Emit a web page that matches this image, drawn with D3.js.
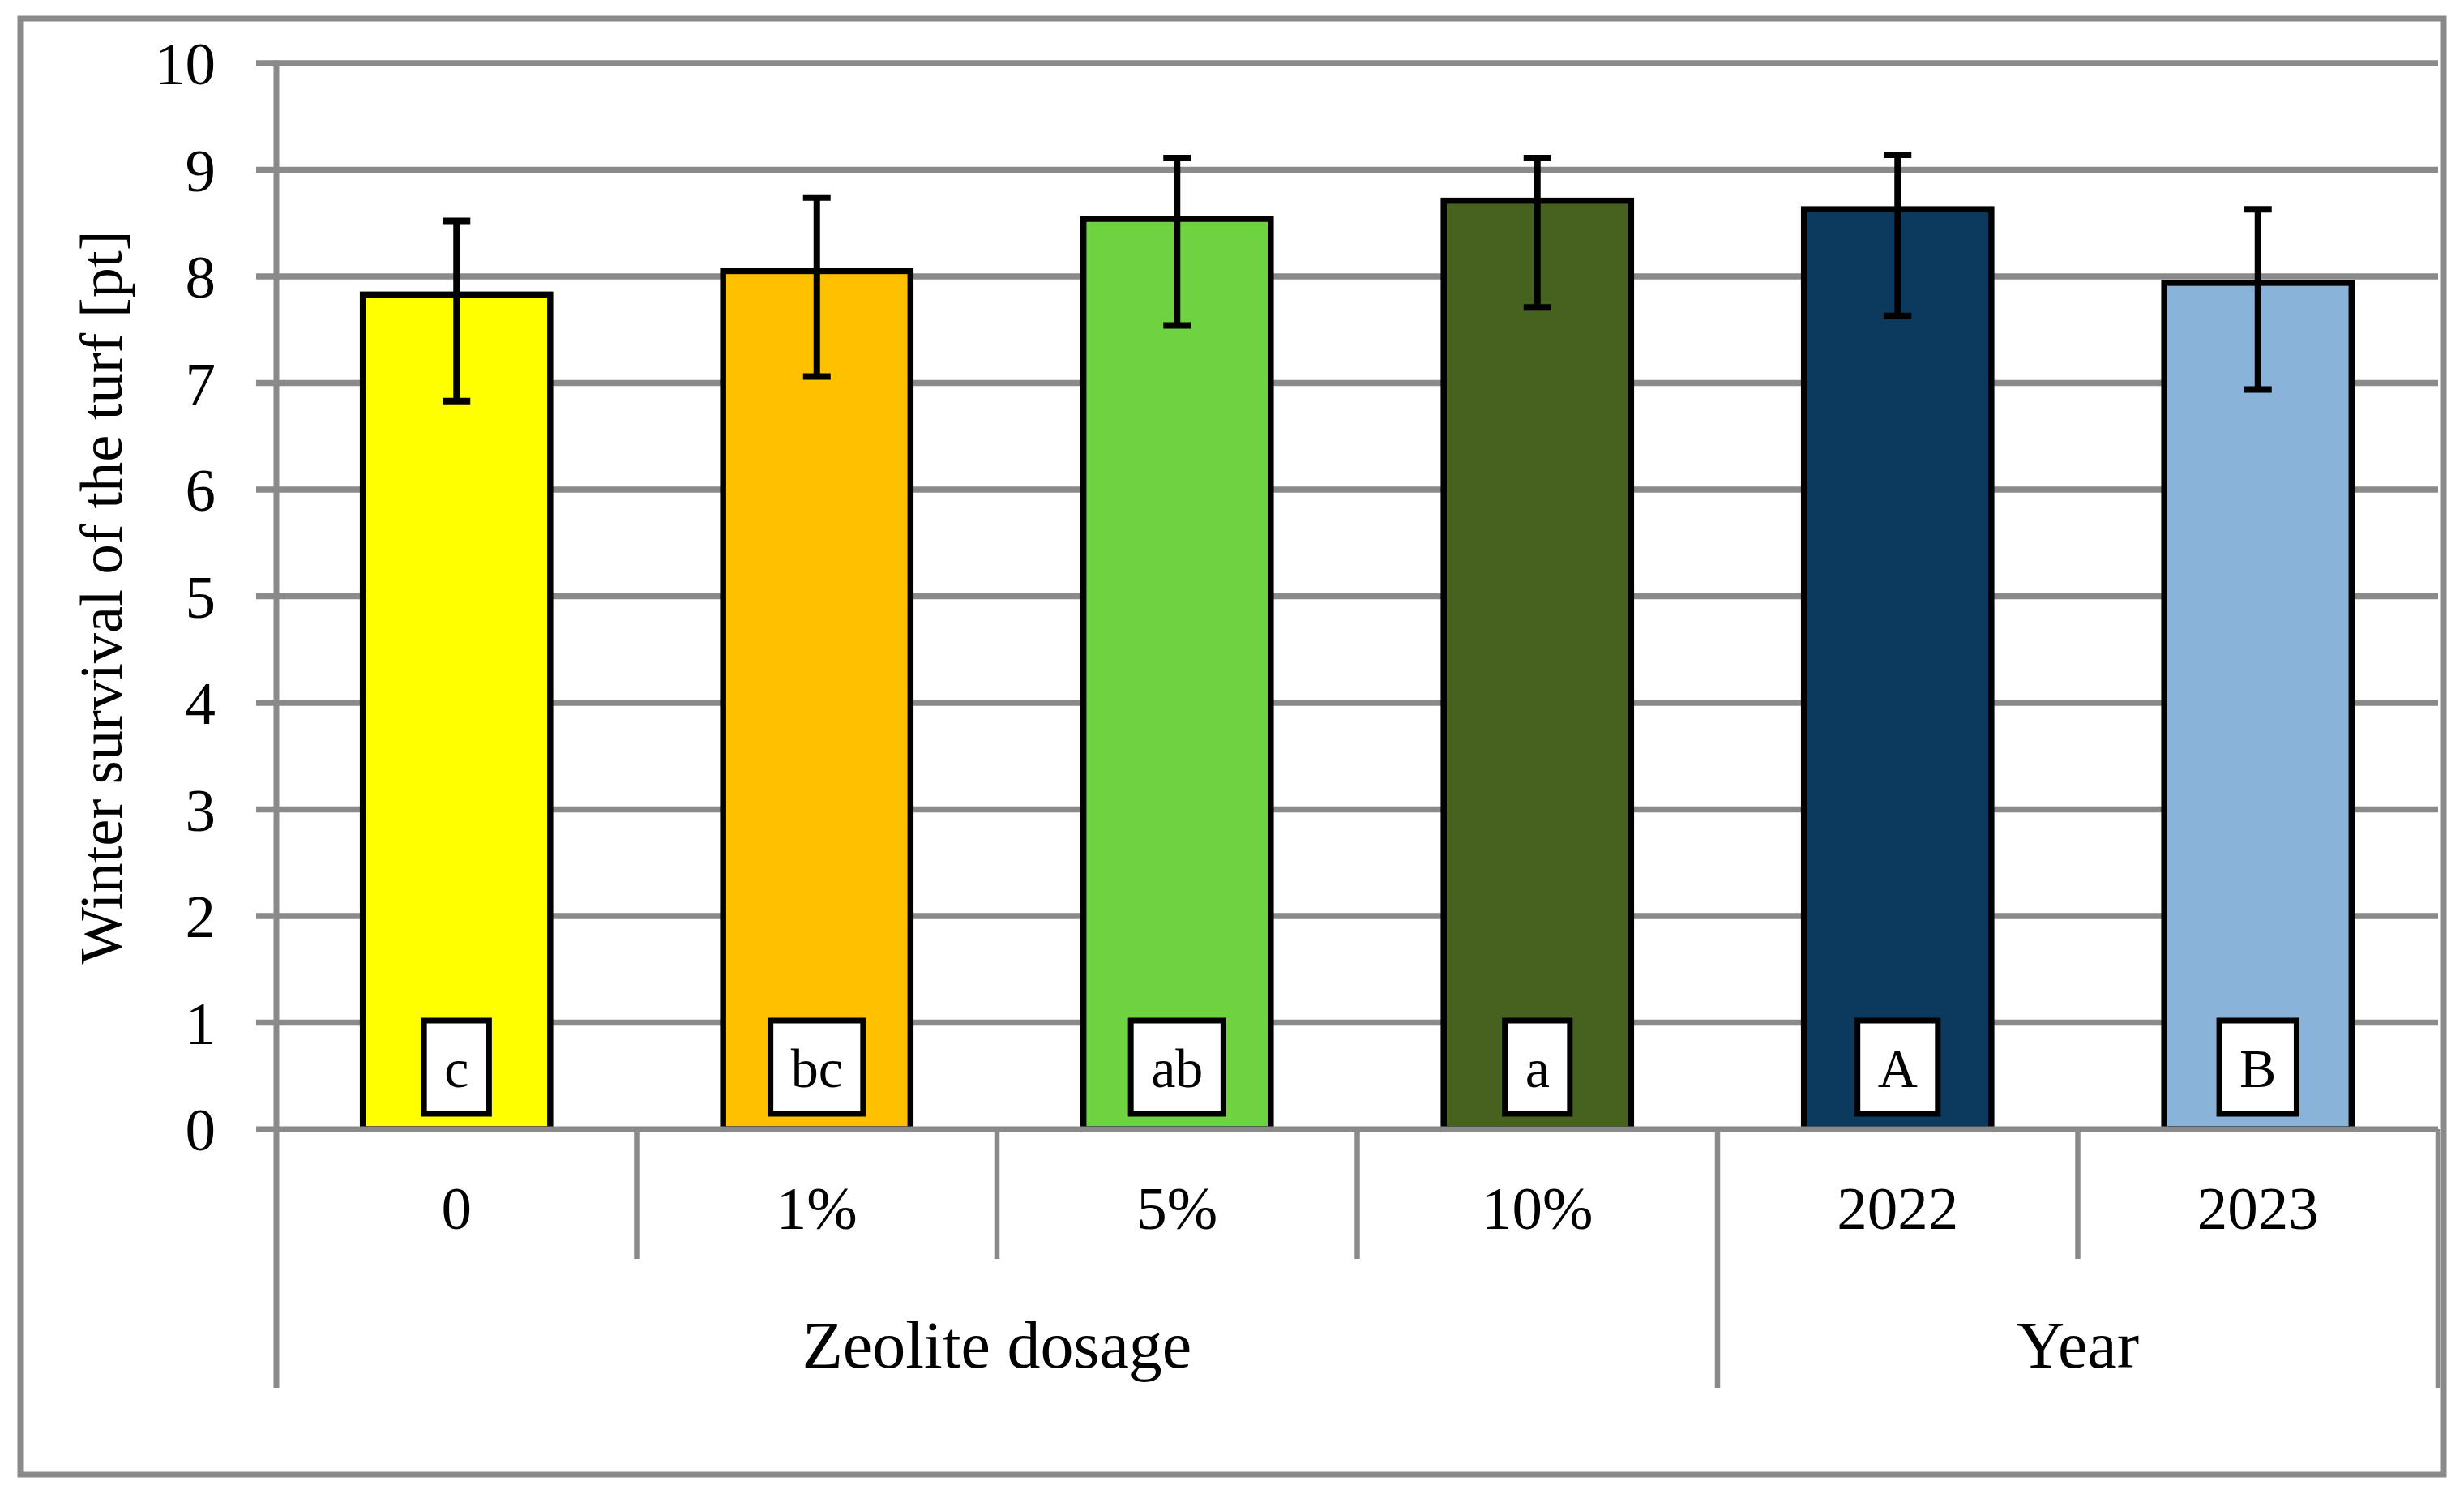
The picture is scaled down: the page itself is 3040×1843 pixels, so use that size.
<!DOCTYPE html>
<html>
<head>
<meta charset="utf-8">
<script src="https://cdn.jsdelivr.net/npm/d3@7"></script>
<style>
  html, body { margin: 0; padding: 0; background: #ffffff; }
  svg { display: block; }
  text { font-family: "Liberation Serif", "Times New Roman", serif; fill: #000; }
</style>
</head>
<body>
<svg id="chart" width="3040" height="1843"></svg>
<script>
// ---- data ----
const categories = ["0", "1%", "5%", "10%", "2022", "2023"];
const means      = [7.83, 8.05, 8.54, 8.71, 8.63, 7.94];
const errPlus    = [0.69, 0.69, 0.57, 0.40, 0.51, 0.69];
const errMinus   = [1.00, 0.99, 1.00, 1.00, 1.00, 1.00];
const letters    = ["c", "bc", "ab", "a", "A", "B"];
const barColors  = ["#FFFF00", "#FFC000", "#6ED241", "#47621F", "#0B3A5E", "#89B3D8"];
const groupNames = ["Zeolite dosage", "Year"];
const groupSizes = [4, 2];
const yTicks     = [0, 1, 2, 3, 4, 5, 6, 7, 8, 9, 10];
const yTitle     = "Winter survival of the turf [pt]";

// ---- layout ----
const svg = d3.select("#chart");
const gridColor = "#8A8A8A";
const X0 = 341, X1 = 3008, Y0 = 1393, Y10 = 78;

const x = d3.scaleBand().domain(categories).range([X0, X1]).paddingInner(0.48).paddingOuter(0.24);
const y = d3.scaleLinear().domain([0, 10]).range([Y0, Y10]);
const step = x.step();

// outer frame
svg.append("rect")
  .attr("x", 25).attr("y", 23).attr("width", 3015 - 25).attr("height", 1819 - 23)
  .attr("fill", "#fff").attr("stroke", gridColor).attr("stroke-width", 7);

// gridlines (1..10)
svg.append("g").selectAll("line").data(yTicks.filter(d => d > 0)).join("line")
  .attr("x1", X0 - 25).attr("x2", X1)
  .attr("y1", d => y(d)).attr("y2", d => y(d))
  .attr("stroke", gridColor).attr("stroke-width", 7.3);

// bars
svg.append("g").selectAll("rect").data(categories).join("rect")
  .attr("x", d => x(d)).attr("width", x.bandwidth())
  .attr("y", (d, i) => y(means[i])).attr("height", (d, i) => y(0) - y(means[i]))
  .attr("fill", (d, i) => barColors[i])
  .attr("stroke", "#000").attr("stroke-width", 7.5);

// error bars
const eb = svg.append("g").attr("stroke", "#000");
categories.forEach((c, i) => {
  const cx = x(c) + x.bandwidth() / 2;
  const top = y(means[i] + errPlus[i]);
  const bot = y(means[i] - errMinus[i]);
  eb.append("line").attr("x1", cx).attr("x2", cx).attr("y1", top).attr("y2", bot).attr("stroke-width", 8);
  eb.append("line").attr("x1", cx - 17).attr("x2", cx + 17).attr("y1", top).attr("y2", top).attr("stroke-width", 8);
  eb.append("line").attr("x1", cx - 17).attr("x2", cx + 17).attr("y1", bot).attr("y2", bot).attr("stroke-width", 8);
});

// letter boxes
const lb = svg.append("g");
categories.forEach((c, i) => {
  const cx = x(c) + x.bandwidth() / 2;
  const g = lb.append("g");
  const r = g.append("rect").attr("y", 1259).attr("height", 115)
    .attr("fill", "#fff").attr("stroke", "#000").attr("stroke-width", 7);
  const t = g.append("text").attr("x", cx).attr("y", 1341)
    .attr("text-anchor", "middle").attr("font-size", 68).text(letters[i]);
  const w = t.node().getComputedTextLength() + 50;
  r.attr("x", cx - w / 2).attr("width", w);
});

// zero axis line
svg.append("line").attr("x1", X0 - 25).attr("x2", X1).attr("y1", y(0)).attr("y2", y(0))
  .attr("stroke", gridColor).attr("stroke-width", 7);

// left axis line (extends through category area)
svg.append("line").attr("x1", X0).attr("x2", X0).attr("y1", Y10 - 3.5).attr("y2", 1712)
  .attr("stroke", gridColor).attr("stroke-width", 7);

// category separators
const sep = svg.append("g").attr("stroke", gridColor).attr("stroke-width", 6.5);
let cum = 0;
const groupEnds = groupSizes.map(s => (cum += s));
for (let k = 1; k <= categories.length; k++) {
  const bx = X0 + k * step;
  const isGroupEnd = groupEnds.includes(k);
  sep.append("line").attr("x1", bx).attr("x2", bx).attr("y1", y(0)).attr("y2", isGroupEnd ? 1712 : 1553);
}

// y tick labels
svg.append("g").selectAll("text").data(yTicks).join("text")
  .attr("x", 266).attr("y", d => y(d)).attr("dy", "0.35em")
  .attr("text-anchor", "end").attr("font-size", 75).text(d => d);

// category labels
svg.append("g").selectAll("text").data(categories).join("text")
  .attr("x", d => x(d) + x.bandwidth() / 2).attr("y", 1516)
  .attr("text-anchor", "middle").attr("font-size", 75).text(d => d);

// group labels
let start = 0;
groupNames.forEach((name, gi) => {
  const gx0 = X0 + start * step;
  const gx1 = X0 + (start + groupSizes[gi]) * step;
  svg.append("text").attr("x", (gx0 + gx1) / 2).attr("y", 1687)
    .attr("text-anchor", "middle").attr("font-size", 82).text(name);
  start += groupSizes[gi];
});

// y axis title
svg.append("text").attr("transform", "translate(150,737) rotate(-90)")
  .attr("text-anchor", "middle").attr("font-size", 74.5).text(yTitle);
</script>
</body>
</html>
